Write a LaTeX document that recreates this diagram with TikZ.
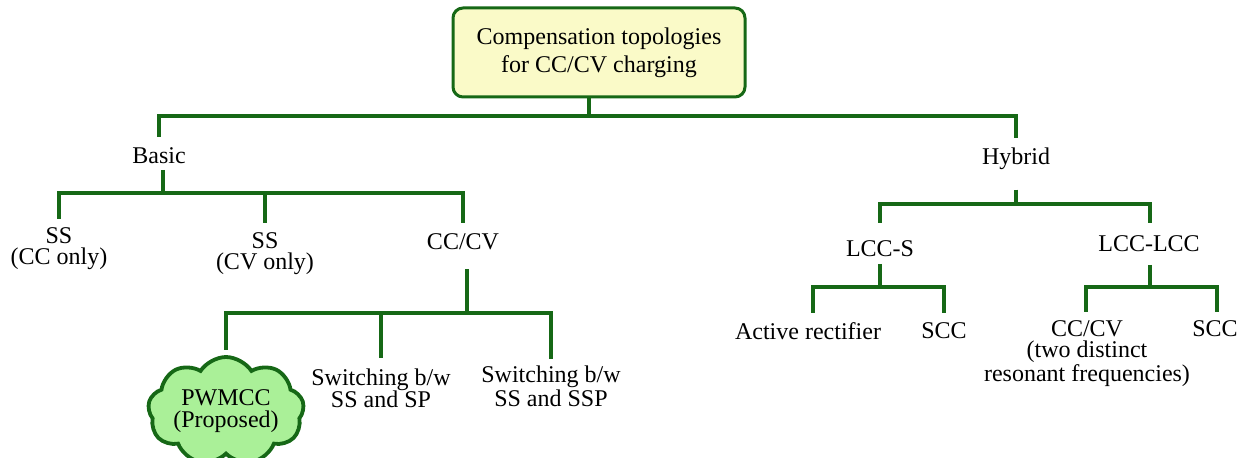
\documentclass[tikz,border=0pt]{standalone}
\usepackage{fontspec}
\setmainfont{Liberation Serif}
\usetikzlibrary{shapes.symbols}
\definecolor{linegreen}{RGB}{22,104,22}
\definecolor{boxfill}{RGB}{250,250,200}
\definecolor{cloudfill}{RGB}{170,240,152}
\begin{document}
\begin{tikzpicture}[x=0.5pt,y=-0.5pt,
  link/.style={draw=linegreen,line width=1.6pt},
  lbl/.style={inner sep=0pt,align=center,anchor=north,font=\fontsize{12}{10.5}\selectfont},
  topbox/.style={draw=linegreen,fill=boxfill,line width=1.5pt,rounded corners=5pt,
    minimum width=146pt,minimum height=44.5pt,inner sep=0pt,align=center,
    font=\fontsize{12}{14}\selectfont},
  idea/.style={cloud,cloud puffs=9,cloud puff arc=115,cloud ignores aspect,
    draw=linegreen,fill=cloudfill,line width=1.9pt,minimum width=78pt,minimum height=54pt,
    inner sep=0pt,align=center,font=\fontsize{12}{11}\selectfont}]

\useasboundingbox (0,0) rectangle (1247,458);

% tree nodes
\node[topbox] (root) at (599,52.5) {Compensation topologies\\for CC/CV charging};
\node[lbl] (basic) at (159,147) {Basic};
\node[lbl] (hybrid) at (1016,147) {Hybrid};
\node[lbl] (ss1) at (59,227) {SS\\(CC only)};
\node[lbl] (ss2) at (265,232) {SS\\(CV only)};
\node[lbl] (ccv) at (463,233) {CC/CV};
\node[idea] (pwm) at (226,411) {PWMCC\\(Proposed)};
\node[lbl,font=\fontsize{12}{11}\selectfont] (sw1) at (381,368) {Switching b/w\\SS and SP};
\node[lbl,font=\fontsize{12}{12}\selectfont] (sw2) at (551,365) {Switching b/w\\SS and SSP};
\node[lbl] (lccs) at (880,240) {LCC-S};
\node[lbl] (lcc2) at (1149,235) {LCC-LCC};
\node[lbl] (act) at (808,322) {Active rectifier};
\node[lbl] (scc1) at (944,322) {SCC};
\node[lbl] (ccv2) at (1087,320) {CC/CV\\(two distinct\\resonant frequencies)};
\node[lbl] (scc2) at (1215,320) {SCC};

% junctions on the horizontal bars
\coordinate (j0) at (589,116);
\coordinate (jB) at (163,193);
\coordinate (jC) at (467,313);
\coordinate (jH) at (1016,204);
\coordinate (jL) at (880,287);
\coordinate (jM) at (1150,287);

% root level
\draw[link] (root.south -| j0) -- (j0) -| ([yshift=5pt]basic.north);
\draw[link] (j0) -| ([yshift=4.5pt]hybrid.north);

% basic branch
\draw[link] (basic.south) ++(4,6) -- (jB);
\draw[link] (jB) -| ([yshift=4pt]ss1.north);
\draw[link] (jB) -| ([yshift=4.5pt]ss2.north);
\draw[link] (jB) -| ([yshift=5pt]ccv.north);

% CC/CV branch
\draw[link] (ccv.south) ++(4,19) -- (jC);
\draw[link] (jC) -| ([yshift=2.5pt]pwm.north);
\draw[link] (jC) -| ([yshift=5pt]sw1.north);
\draw[link] (jC) -| ([yshift=3pt]sw2.north);

% hybrid branch
\draw[link] (hybrid.south) ++(0,20) -- (jH);
\draw[link] (jH) -| ([yshift=8.5pt]lccs.north);
\draw[link] (jH) -| ([xshift=0.5pt,yshift=6pt]lcc2.north);

% LCC-S branch
\draw[link] (lccs.south) ++(0,7) -- (jL);
\draw[link] (jL) -| ([xshift=2.5pt,yshift=4.5pt]act.north);
\draw[link] (jL) -| ([yshift=4.5pt]scc1.north);

% LCC-LCC branch
\draw[link] (lcc2.south) ++(1,13) -- (jM);
\draw[link] (jM) -| ([xshift=-0.5pt,yshift=4pt]ccv2.north);
\draw[link] (jM) -| ([xshift=1pt,yshift=4pt]scc2.north);
\end{tikzpicture}
\end{document}
